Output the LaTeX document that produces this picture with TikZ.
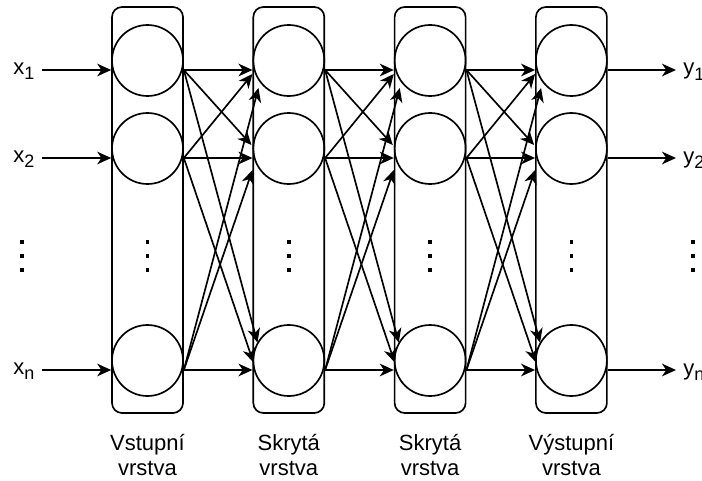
\documentclass[tikz,border=0pt]{standalone}
\usepackage{fontspec}
\setmainfont{Liberation Sans}
\usetikzlibrary{arrows.meta,calc}
\newcommand\lowsub[1]{\raisebox{-3.8pt}{\fontsize{13.5}{13.5}\selectfont #1}}
\begin{document}
\begin{tikzpicture}[x=0.75pt,y=-0.75pt,
  wire/.style={line width=1.25pt, -{Stealth[length=10.5pt,width=9.5pt,inset=3.2pt]}},
  layerbox/.style={draw, line width=1.25pt, rounded corners=7.5pt,
    minimum width=53.25pt, minimum height=304.5pt, inner sep=0},
  neuron/.style={draw, circle, line width=1.25pt, minimum size=53.25pt, inner sep=0},
  lab/.style={font=\fontsize{16.5}{19}\selectfont, inner sep=0},
  dot/.style={fill=black, inner sep=0, minimum size=2.6pt}]

\path[fill=white] (0,0) rectangle (702,481);
\useasboundingbox (0,0) rectangle (702,481);

% four layers: rounded frame, three neurons, vertical ellipsis
\foreach \j/\L in {1/112,2/253.3,3/394.6,4/535.9}{
  \node[layerbox] (l\j) at (\L+35.5,210) {};
  \node[neuron] (n\j1) at (\L+35.5,60.5) {};
  \node[neuron] (n\j2) at (\L+35.5,148.5) {};
  \node[neuron] (n\j3) at (\L+35.5,360.5) {};
  \foreach \yy in {242,256,270}
    \node[dot] at (\L+35.5,\yy) {};
}

% full connections between neighbouring layers
\foreach \j/\k in {1/2,2/3,3/4}
  \foreach \s/\t/\dx/\dy in {1/1/0/9.5, 2/1/0/13.5, 3/1/6/27.5,
                             1/2/-1/-3.5, 2/2/0/9.5, 3/2/0/21.5,
                             1/3/5/-18, 2/3/1/2, 3/3/0/9.5}
    \draw[wire] ($(n\j\s.east)+(0,9.5)$) -- ($(n\k\t.west)+(\dx,\dy)$);

% inputs
\coordinate (in1) at (42,70);
\coordinate (in2) at (42,158);
\coordinate (in3) at (42,370);
\node[lab, anchor=base west] (xl1) at (13,74.5) {x\lowsub{1}};
\node[lab, anchor=base west] (xl2) at (13,162.5) {x\lowsub{2}};
\node[lab, anchor=base west] (xl3) at (13,374.5) {x\lowsub{n}};
\draw[wire] (in1) -- ($(n11.west)+(0,9.5)$);
\draw[wire] (in2) -- ($(n12.west)+(0,9.5)$);
\draw[wire] (in3) -- ($(n13.west)+(0,9.5)$);
\foreach \yy in {242,256,270}
  \node[dot] at (22,\yy) {};

% outputs
\coordinate (out1) at (676,70);
\coordinate (out2) at (676,158);
\coordinate (out3) at (676,370);
\draw[wire] ($(n41.east)+(0,9.5)$) -- (out1);
\draw[wire] ($(n42.east)+(0,9.5)$) -- (out2);
\draw[wire] ($(n43.east)+(0,9.5)$) -- (out3);
\node[lab, anchor=base west] (yl1) at (683,75) {y\lowsub{1}};
\node[lab, anchor=base west] (yl2) at (683,163) {y\lowsub{2}};
\node[lab, anchor=base west] (yl3) at (683,375) {y\lowsub{n}};
\foreach \yy in {242,256,270}
  \node[dot] at (693,\yy) {};

% layer captions
\node[lab, anchor=base] (c1a) at (147.5,450) {Vstupní};
\node[lab, anchor=base] (c1b) at (147.5,475) {vrstva};
\node[lab, anchor=base] (c2a) at (288.8,450) {Skrytá};
\node[lab, anchor=base] (c2b) at (288.8,475) {vrstva};
\node[lab, anchor=base] (c3a) at (430.1,450) {Skrytá};
\node[lab, anchor=base] (c3b) at (430.1,475) {vrstva};
\node[lab, anchor=base] (c4a) at (571.4,450) {Výstupní};
\node[lab, anchor=base] (c4b) at (571.4,475) {vrstva};
\end{tikzpicture}
\end{document}
